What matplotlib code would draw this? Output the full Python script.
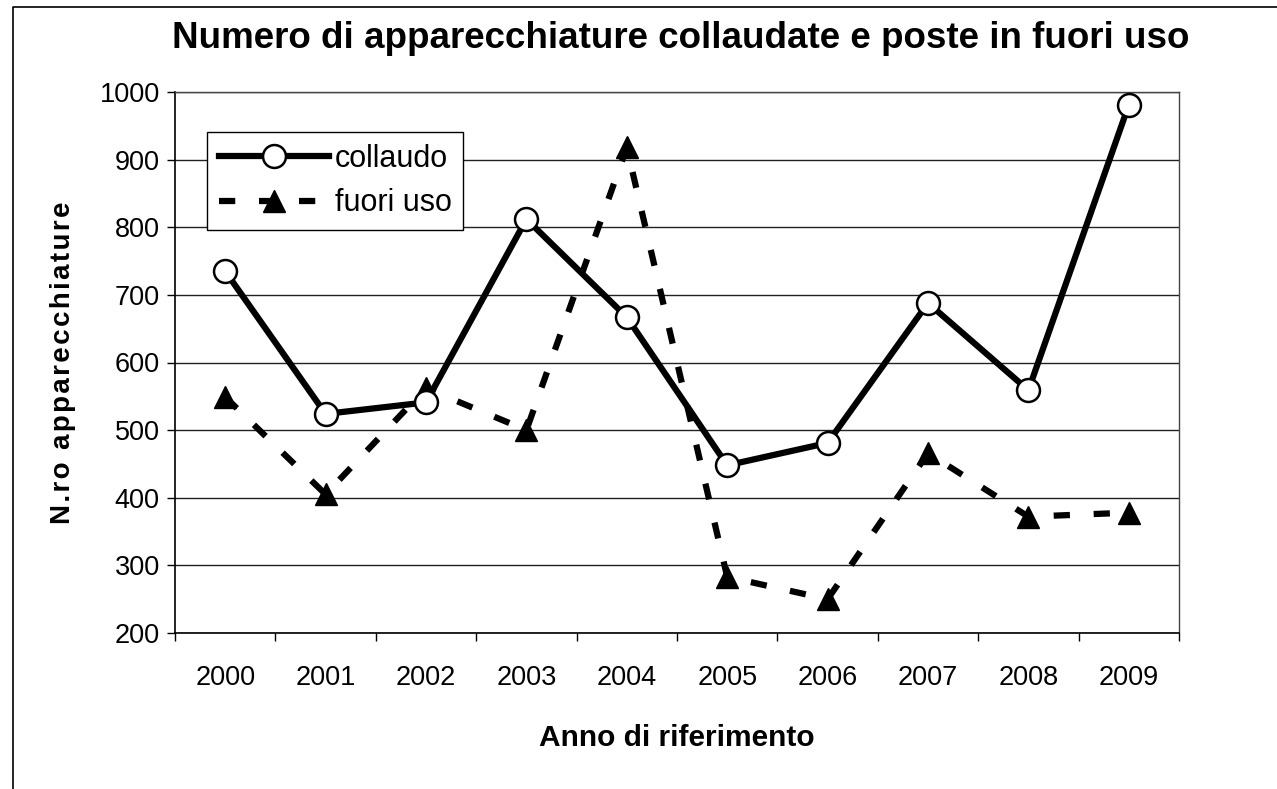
import matplotlib

matplotlib.use("Agg")
import matplotlib.pyplot as plt  # noqa: E402
import numpy as np  # noqa: E402
from matplotlib.lines import Line2D  # noqa: E402

plt.rcParams["font.family"] = ["Liberation Sans", "DejaVu Sans"]

years = ["2000", "2001", "2002", "2003", "2004", "2005", "2006", "2007", "2008", "2009"]
collaudo = [735, 524, 541, 812, 667, 448, 481, 688, 559, 981]
fuori_uso = [549, 405, 562, 500, 918, 283, 250, 466, 372, 378]

W, H = 1277, 789
PL, PR, PT, PB = 175, 1179, 92, 633
fig = plt.figure(figsize=(W / 100, H / 100), dpi=100, facecolor="white")
ax = fig.add_axes([PL / W, 1 - PB / H, (PR - PL) / W, (PB - PT) / H])

x = np.arange(len(years))
ax.plot(x, collaudo, color="black", lw=4.5, marker="o", markersize=16.5,
        markerfacecolor="white", markeredgecolor="black", markeredgewidth=1.8,
        label="collaudo", zorder=4)
ax.plot(x, fuori_uso, color="black", lw=4.5, dashes=(2.6, 3.8), marker="^",
        markersize=16, markerfacecolor="black", markeredgecolor="black",
        label="fuori uso", zorder=3)

ax.set_xlim(-0.5, len(years) - 0.5)
ax.set_ylim(200, 1000)
ax.set_yticks(np.arange(200, 1001, 100))
ax.yaxis.grid(True, color="#222222", lw=1.0)
ax.set_axisbelow(True)

# category boundaries get the tick marks, the year labels sit in between
ax.set_xticks(np.arange(-0.5, len(years), 1.0))
ax.set_xticklabels([])
ax.set_xticks(x, minor=True)
ax.set_xticklabels(years, minor=True)
ax.tick_params(axis="x", which="major", length=6, width=1.0, direction="out")
ax.tick_params(axis="x", which="minor", length=0, pad=23, labelsize=19.5)
ax.tick_params(axis="y", length=6, width=1.0, pad=5, labelsize=19.5)

for side in ("top", "right"):
    ax.spines[side].set_color("#444444")
    ax.spines[side].set_linewidth(1.0)
for side in ("left", "bottom"):
    ax.spines[side].set_linewidth(1.2)

ax.set_xlabel("Anno di riferimento", fontsize=21.5, fontweight="bold", labelpad=24)
ax.set_ylabel("\u200a".join("N.ro apparecchiature"), fontsize=20, fontweight="bold",
              labelpad=17)
fig.suptitle("Numero di apparecchiature collaudate e poste in fuori uso",
             x=681 / W, y=1 - 21 / H, fontsize=26.5, fontweight="bold", va="top")

leg = ax.legend(loc="upper left",
                bbox_to_anchor=((207 - PL) / (PR - PL), (PB - 132) / (PB - PT)),
                fontsize=22, frameon=True, fancybox=False, framealpha=1,
                edgecolor="black", handlelength=3.6, handletextpad=0.2,
                borderpad=0.38, labelspacing=0.48, borderaxespad=0)
leg.get_frame().set_linewidth(1.0)

# outer chart frame (cut off on the right and bottom)
fig.add_artist(Line2D([13 / W, 13 / W, 1.0], [0.0, 1 - 7 / H, 1 - 7 / H],
                      transform=fig.transFigure, color="black", lw=1.2))

fig.savefig("out.png", dpi=100, facecolor="white")
